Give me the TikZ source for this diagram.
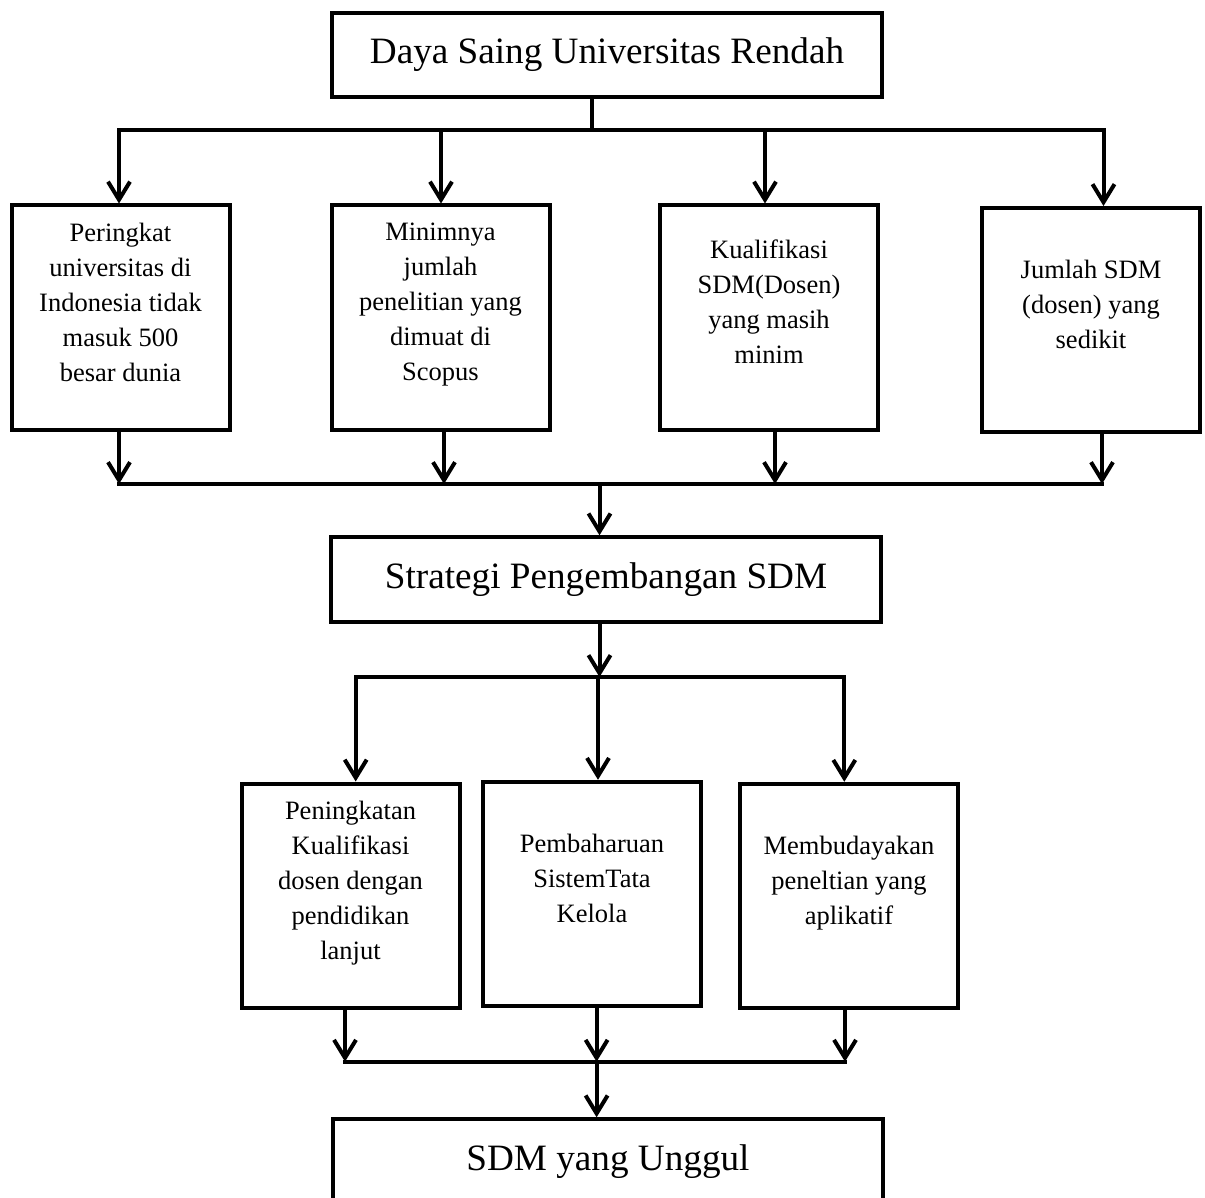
\documentclass[tikz,border=0pt]{standalone}
\usepackage{fontspec}
\setmainfont{Liberation Serif}
\usetikzlibrary{arrows.meta}
\newcommand{\lowstrut}{\rule[-15.6pt]{0pt}{0pt}}
\begin{document}
\begin{tikzpicture}
  [x=0.5pt,y=-0.5pt,line width=2pt,
   every node/.style={draw,rectangle,align=center,inner sep=0pt},
   big/.style={minimum width=275pt,minimum height=42.2pt,font={\fontsize{18.6}{22}\selectfont}},
   small/.style={minimum width=109pt,minimum height=112pt,font={\fontsize{13.25}{17.5}\selectfont}},
   arr/.style={-{Straight Barb[length=9pt,width=11pt]}},
   bus/.style={line cap=rect}]
  \useasboundingbox (0,0) rectangle (1205,1198);
  \node[big] (top) at (607,54.9) {Daya Saing Universitas Rendah};
  \node[small] (b1) at (120.5,317.5) {Peringkat\\universitas di\\Indonesia tidak\\masuk 500\\besar dunia\lowstrut};
  \node[small] (b2) at (440.5,317.5) {Minimnya\\jumlah\\penelitian yang\\dimuat di\\Scopus\lowstrut};
  \node[small] (b3) at (769,317.5) {Kualifikasi\\SDM(Dosen)\\yang masih\\minim\lowstrut};
  \node[small] (b4) at (1091,320) {Jumlah SDM\\(dosen) yang\\sedikit\lowstrut};
  \node[big] (mid) at (606,579.5) {Strategi Pengembangan SDM};
  \node[small] (c1) at (350.5,895.5) {Peningkatan\\Kualifikasi\\dosen dengan\\pendidikan\\lanjut\lowstrut};
  \node[small] (c2) at (592,893.8) {Pembaharuan\\SistemTata\\Kelola\lowstrut};
  \node[small] (c3) at (849,895.8) {Membudayakan\\peneltian yang\\aplikatif\lowstrut};
  \node[big] (end) at (608,1161.5) {SDM yang Unggul};

  % first split
  \coordinate (p0) at (592,130);
  \coordinate (p1) at (119,130);
  \coordinate (p2) at (441,130);
  \coordinate (p3) at (765,130);
  \coordinate (p4) at (1103.5,130);
  \draw (top.south -| p0) -- (p0);
  \draw[bus] (p1) -- (p4);
  \foreach \from/\to in {p1/b1,p2/b2,p3/b3,p4/b4}
    \draw[arr] (\from) -- (\from |- \to.north);

  % first join
  \coordinate (q0) at (599.5,484);
  \coordinate (q1) at (119,484);
  \coordinate (q2) at (444,484);
  \coordinate (q3) at (775,484);
  \coordinate (q4) at (1102,484);
  \foreach \from/\to in {b1/q1,b2/q2,b3/q3,b4/q4}
    \draw[arr] (\to |- \from.south) -- (\to);
  \draw[bus] (q1) -- (q4);
  \draw[arr] (q0) -- (q0 |- mid.north);

  % second split
  \coordinate (r0) at (599.5,677);
  \coordinate (r1) at (355.7,677);
  \coordinate (r2) at (598,677);
  \coordinate (r3) at (844.3,677);
  \draw[arr] (mid.south -| r0) -- (r0);
  \draw[bus] (r1) -- (r3);
  \foreach \from/\to in {r1/c1,r2/c2,r3/c3}
    \draw[arr] (\from) -- (\from |- \to.north);

  % second join
  \coordinate (s1) at (345,1061.7);
  \coordinate (s2) at (596.6,1061.7);
  \coordinate (s3) at (845,1061.7);
  \foreach \from/\to in {c1/s1,c2/s2,c3/s3}
    \draw[arr] (\to |- \from.south) -- (\to);
  \draw[bus] (s1) -- (s3);
  \draw[arr] (s2) -- (s2 |- end.north);

\end{tikzpicture}
\end{document}
